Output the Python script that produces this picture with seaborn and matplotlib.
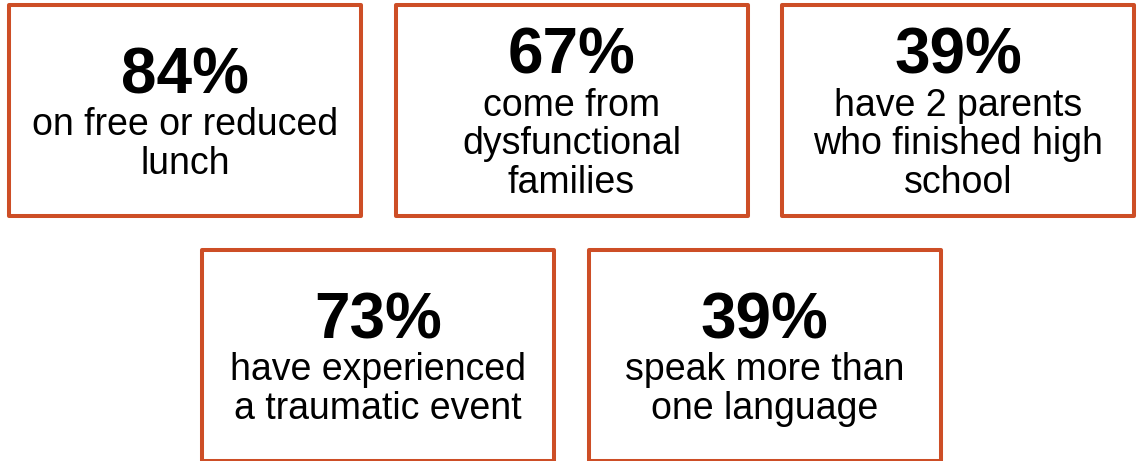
import matplotlib
matplotlib.use("Agg")
import matplotlib.pyplot as plt
import seaborn as sns
from matplotlib.patches import Rectangle

# stats shown in the boxes (top row first, then bottom row)
pcts = [84, 67, 39, 73, 39]
labels = [
    "on free or reduced\nlunch",
    "come from\ndysfunctional\nfamilies",
    "have 2 parents\nwho finished high\nschool",
    "have experienced\na traumatic event",
    "speak more than\none language",
]

sns.set_theme(style="white")
plt.rcParams['font.family'] = ['Liberation Sans', 'DejaVu Sans']

border = "#cd4e26"

fig = plt.figure(figsize=(11.39, 4.61), dpi=100)
ax = fig.add_axes([0, 0, 1, 1])
ax.set_xlim(0, 1139)
ax.set_ylim(461, 0)
ax.axis("off")

box_w, box_h = 352, 211
step = 386.5
line_h = 38.5

for i, (p, lab) in enumerate(zip(pcts, labels)):
    # layout: 3 boxes on top, 2 boxes below shifted half a step
    if i < 3:
        x0 = 9 + step * i
        y0 = 5
    else:
        x0 = 9 + step / 2 + step * (i - 3)
        y0 = 250
    ax.add_patch(Rectangle((x0, y0), box_w, box_h, fill=False,
                           edgecolor=border, linewidth=2.9, joinstyle="round"))
    lines = lab.split("\n")
    cx = x0 + box_w / 2
    base = y0 + 88 - (len(lines) - 2) * line_h / 2
    ax.text(cx, base, f"{p}%", ha="center", va="baseline",
            fontsize=46, fontweight="bold", color="black")
    for j, ln in enumerate(lines):
        ax.text(cx, base + 42 + j * line_h, ln, ha="center", va="baseline",
                fontsize=27, color="black")

fig.savefig("out.png", dpi=100)
